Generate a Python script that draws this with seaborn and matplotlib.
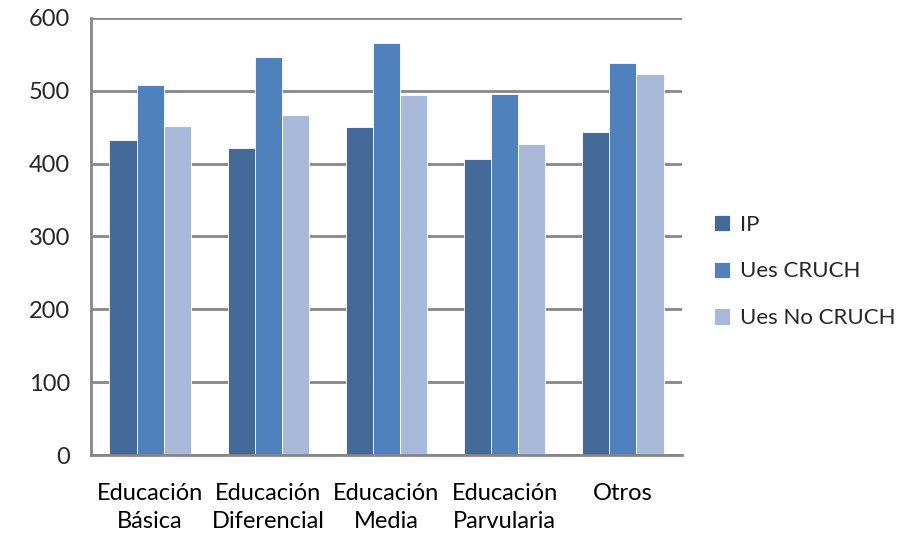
import pandas as pd
import numpy as np
import matplotlib.pyplot as plt
import seaborn as sns

# datos
categorias = ["Educación\nBásica", "Educación\nDiferencial", "Educación\nMedia",
              "Educación\nParvularia", "Otros"]
ip = [432, 421, 451, 407, 444]
ues_cruch = [508, 546, 565, 496, 538]
ues_no_cruch = [452, 467, 494, 427, 523]
series = ["IP", "Ues CRUCH", "Ues No CRUCH"]
colores = ["#446A9A", "#4F81BD", "#A9B9D9"]

df = pd.DataFrame({
    "categoria": categorias * 3,
    "serie": [series[0]] * 5 + [series[1]] * 5 + [series[2]] * 5,
    "valor": ip + ues_cruch + ues_no_cruch,
})

sns.set_style("white")
plt.rcParams['font.family'] = ['Lato', 'DejaVu Sans']

fig = plt.figure(figsize=(9.03, 5.33), dpi=100)
ax = fig.add_axes([91 / 903, 1 - 455 / 533, (682 - 91) / 903, (455 - 18) / 533])

sns.barplot(data=df, x="categoria", y="valor", hue="serie", palette=colores,
            width=0.69, saturation=1, ax=ax, edgecolor="white", linewidth=0.6)

gris = "#868686"
ax.set_ylim(0, 600)
ax.set_yticks(range(0, 601, 100))
ax.yaxis.grid(True, color=gris, linewidth=2)
ax.set_axisbelow(True)
ax.set_xlim(-0.5, 4.5)
for s in ["top", "right"]:
    ax.spines[s].set_visible(False)
for s in ["left", "bottom"]:
    ax.spines[s].set_color(gris)
    ax.spines[s].set_linewidth(2)

ax.set_xticks(np.arange(-0.5, 5, 1), minor=True)
ax.tick_params(axis="x", which="major", length=0, labelsize=17, pad=20, colors="black")
ax.tick_params(axis="x", which="minor", length=10, width=2, color=gris, direction="out")
ax.tick_params(axis="y", length=10, width=2, color=gris, direction="out", labelsize=17, pad=5)
for t in ax.get_xticklabels():
    t.set_linespacing(1.4)
ax.set_xlabel("")
ax.set_ylabel("")

ax.legend(title=None, frameon=False, loc="center left", bbox_to_anchor=(1.02, 0.42),
          fontsize=16, handlelength=0.75, handleheight=0.75, labelspacing=1.2,
          handletextpad=0.45)

fig.savefig("out.png", dpi=100)
